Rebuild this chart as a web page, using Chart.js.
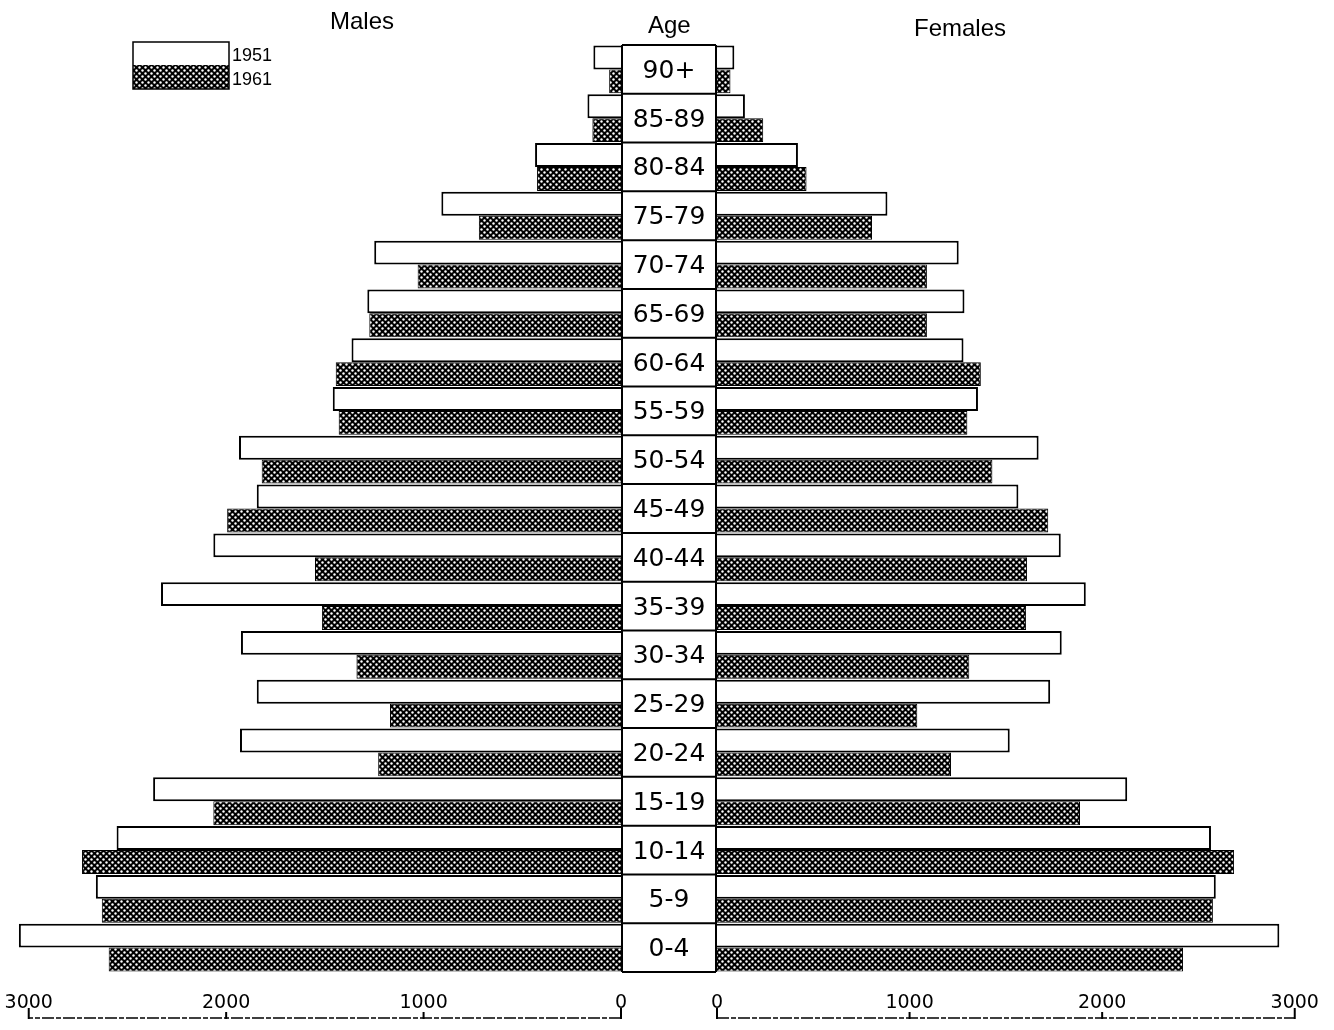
<!DOCTYPE html>
<html>
<head>
<meta charset="utf-8">
<title>Population by age and sex, 1951 and 1961</title>
<script src="https://cdn.jsdelivr.net/npm/chart.js@4.4.0/dist/chart.umd.min.js"></script>
<style>
  body { margin: 0; background: #fff; }
  #wrap { position: relative; width: 1334px; height: 1030px; overflow: hidden; }
  canvas { position: absolute; top: 0; }
  #malesChart { left: 0; }
  #femalesChart { left: 697px; }
  .title { position: absolute; font-family: 'Liberation Sans', Arial, sans-serif; font-size: 24px; line-height: 24px; color: #000; white-space: nowrap; }
</style>
</head>
<body>
<div id="wrap">
  <canvas id="malesChart" width="717" height="1030"></canvas>
  <canvas id="femalesChart" width="637" height="1030"></canvas>
  <div class="title" style="left:330px; top:9px;">Males</div>
  <div class="title" style="left:648px; top:13px;">Age</div>
  <div class="title" style="left:914px; top:16px;">Females</div>
</div>
<script>
// Age groups, oldest at the top
const ageGroups = ['90+', '85-89', '80-84', '75-79', '70-74', '65-69', '60-64', '55-59', '50-54',
  '45-49', '40-44', '35-39', '30-34', '25-29', '20-24', '15-19', '10-14', '5-9', '0-4'];

// Population in thousands
const males1951 = [140, 170, 435, 910, 1250, 1285, 1365, 1460, 1935, 1845, 2065, 2330, 1925, 1845, 1930, 2370, 2555, 2660, 3050];
const males1961 = [60, 145, 425, 720, 1030, 1275, 1445, 1430, 1820, 1995, 1550, 1515, 1340, 1170, 1230, 2065, 2730, 2630, 2595];
const females1951 = [90, 145, 420, 885, 1255, 1285, 1280, 1355, 1670, 1565, 1785, 1915, 1790, 1730, 1520, 2130, 2565, 2590, 2920];
const females1961 = [70, 240, 465, 805, 1090, 1090, 1370, 1300, 1430, 1720, 1610, 1605, 1310, 1040, 1215, 1885, 2685, 2575, 2420];

const axisTicks = [0, 1000, 2000, 3000];
const years = ['1951', '1961'];

// black screen with white dots for the 1961 bars
function makeDots() {
  const tile = document.createElement('canvas');
  tile.width = 6; tile.height = 6;
  const t = tile.getContext('2d');
  t.fillStyle = '#000';
  t.fillRect(0, 0, 6, 6);
  t.fillStyle = '#fff';
  [[1.5, 1.5], [4.5, 4.5]].forEach(([x, y]) => {
    t.beginPath(); t.arc(x, y, 1.2, 0, Math.PI * 2); t.fill();
  });
  return t.createPattern(tile, 'repeat');
}
const dots = makeDots();

function datasets(v1951, v1961) {
  return [
    { label: years[0], data: v1951, backgroundColor: '#fff', borderColor: '#000', borderWidth: 2 },
    { label: years[1], data: v1961, backgroundColor: dots, borderColor: '#000', borderWidth: 1 },
  ];
}

// bracket under the tick labels
const bracket = {
  id: 'bracket',
  afterDraw(chart) {
    const { ctx } = chart;
    const x = chart.scales.x;
    const y = 1018;
    const a = x.getPixelForValue(0), b = x.getPixelForValue(3000);
    ctx.save();
    ctx.strokeStyle = '#000';
    ctx.lineWidth = 1.5;
    ctx.setLineDash([12, 2, 5, 2]);
    ctx.beginPath();
    ctx.moveTo(a, y); ctx.lineTo(b, y);
    ctx.stroke();
    ctx.setLineDash([]);
    ctx.lineWidth = 2;
    ctx.beginPath();
    axisTicks.forEach(v => {
      const px = x.getPixelForValue(v);
      const h = (v === 0 || v === 3000) ? 10 : 6;
      ctx.moveTo(px, y + 1); ctx.lineTo(px, y - h);
    });
    ctx.stroke();
    ctx.restore();
  }
};

// boxed age column and the year key
const ageColumn = {
  id: 'ageColumn',
  afterDatasetsDraw(chart) {
    const { ctx } = chart;
    const ys = chart.scales.y;
    const left = ys.left + 1, right = ys.right - 1;
    const step = ys.getPixelForValue(1) - ys.getPixelForValue(0);
    const top = ys.getPixelForValue(0) - step / 2;
    const bottom = ys.getPixelForValue(ageGroups.length - 1) + step / 2;
    ctx.save();
    ctx.fillStyle = '#fff';
    ctx.fillRect(left, top, right - left, bottom - top);
    ctx.strokeStyle = '#000';
    ctx.lineWidth = 2;
    ctx.beginPath();
    ctx.moveTo(left, top); ctx.lineTo(left, bottom);
    ctx.moveTo(right, top); ctx.lineTo(right, bottom);
    for (let i = 0; i <= ageGroups.length; i++) {
      const y = top + i * step;
      ctx.moveTo(left, y); ctx.lineTo(right, y);
    }
    ctx.stroke();
    ctx.fillStyle = '#000';
    ctx.font = '25px "DejaVu Sans", sans-serif';
    ctx.textAlign = 'center';
    ctx.textBaseline = 'middle';
    ageGroups.forEach((g, i) => {
      ctx.fillText(ys.getLabelForValue(i), (left + right) / 2, ys.getPixelForValue(i) + 2);
    });

    // key
    const kx = 133, kw = 96;
    ctx.fillStyle = '#fff';
    ctx.fillRect(kx, 42, kw, 23);
    ctx.fillStyle = dots;
    ctx.fillRect(kx, 65, kw, 24);
    ctx.lineWidth = 1.5;
    ctx.strokeRect(kx, 42, kw, 47);
    ctx.fillStyle = '#000';
    ctx.font = '18px "Liberation Sans Narrow", "Liberation Sans", sans-serif';
    ctx.textAlign = 'left';
    ctx.textBaseline = 'alphabetic';
    ctx.fillText(years[0], 232, 61);
    ctx.fillText(years[1], 232, 85);
    ctx.restore();
  }
};

function options(reverse, padLeft, padRight, showY) {
  return {
    indexAxis: 'y',
    responsive: false,
    animation: false,
    devicePixelRatio: 1,
    layout: { padding: { top: 45, left: padLeft, right: padRight, bottom: 0 } },
    plugins: { legend: { display: false }, tooltip: { enabled: false } },
    datasets: { bar: { barPercentage: 1, categoryPercentage: 0.98 } },
    scales: {
      x: {
        reverse,
        min: 0,
        max: 3100,
        grid: { display: false },
        border: { display: false },
        afterBuildTicks(s) { s.ticks = axisTicks.map(v => ({ value: v })); },
        afterFit(s) { s.height = 58; s.paddingLeft = 0; s.paddingRight = 0; },
        ticks: {
          color: '#000', padding: 12, font: { family: 'DejaVu Sans', size: 19 },
          callback: v => String(v),
        },
      },
      y: {
        display: showY,
        position: 'right',
        grid: { display: false },
        border: { display: false },
        ticks: { display: false },
        afterFit(s) { s.width = showY ? 96 : 0; },
      },
    },
  };
}

new Chart(document.getElementById('malesChart'), {
  type: 'bar',
  data: { labels: ageGroups, datasets: datasets(males1951, males1961) },
  options: options(true, 9, 0, true),
  plugins: [bracket, ageColumn],
});

new Chart(document.getElementById('femalesChart'), {
  type: 'bar',
  data: { labels: ageGroups, datasets: datasets(females1951, females1961) },
  options: options(false, 20, 20, false),
  plugins: [bracket],
});
</script>
</body>
</html>
